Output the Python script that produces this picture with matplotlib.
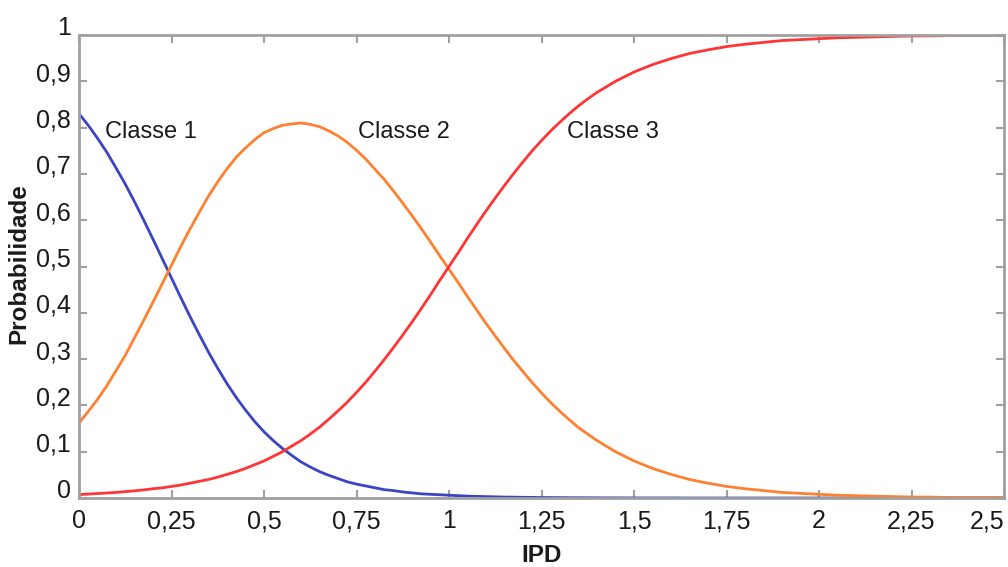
import matplotlib
matplotlib.use("Agg")
import matplotlib.pyplot as plt

plt.rcParams['font.family'] = ['Liberation Sans', 'DejaVu Sans']

ipd = [0.000, 0.025, 0.050, 0.075, 0.100, 0.125, 0.150, 0.175, 0.200, 0.225,
       0.250, 0.275, 0.300, 0.325, 0.350, 0.375, 0.400, 0.425, 0.450, 0.475,
       0.500, 0.525, 0.550, 0.575, 0.600, 0.625, 0.650, 0.675, 0.700, 0.725,
       0.750, 0.775, 0.800, 0.825, 0.850, 0.875, 0.900, 0.925, 0.950, 0.975,
       1.000, 1.025, 1.050, 1.075, 1.100, 1.125, 1.150, 1.175, 1.200, 1.225,
       1.250, 1.275, 1.300, 1.325, 1.350, 1.375, 1.400, 1.425, 1.450, 1.475,
       1.500,
       1.55, 1.60, 1.65, 1.70, 1.75, 1.80, 1.85, 1.90, 1.95, 2.00,
       2.05, 2.10, 2.15, 2.20, 2.25, 2.30, 2.35, 2.40, 2.45, 2.50]

classe1 = [0.830, 0.805, 0.777, 0.747, 0.713, 0.678, 0.640, 0.600, 0.559, 0.517,
           0.475, 0.433, 0.392, 0.353, 0.315, 0.280, 0.247, 0.217, 0.190, 0.165,
           0.143, 0.124, 0.107, 0.092, 0.078, 0.067, 0.057, 0.049, 0.042, 0.035,
           0.030, 0.026, 0.022, 0.018, 0.016, 0.013, 0.011, 0.009, 0.008, 0.007,
           0.006, 0.005, 0.004, 0.0035, 0.003, 0.0025, 0.002, 0.0018, 0.0015, 0.0013,
           0.001, 0.0009, 0.0008, 0.0006, 0.0005, 0.0005, 0.0004, 0.0003, 0.0003, 0.0002,
           0.0002,
           0.0001, 0.0001, 0.0, 0.0, 0.0, 0.0, 0.0, 0.0, 0.0, 0.0,
           0.0, 0.0, 0.0, 0.0, 0.0, 0.0, 0.0, 0.0, 0.0, 0.0]

classe2 = [0.162, 0.187, 0.213, 0.242, 0.275, 0.308, 0.346, 0.384, 0.423, 0.463,
           0.503, 0.543, 0.581, 0.617, 0.652, 0.683, 0.711, 0.736, 0.756, 0.774,
           0.789, 0.798, 0.805, 0.808, 0.810, 0.807, 0.802, 0.793, 0.782, 0.768,
           0.751, 0.732, 0.710, 0.688, 0.663, 0.637, 0.610, 0.582, 0.553, 0.523,
           0.494, 0.465, 0.435, 0.406, 0.377, 0.350, 0.323, 0.297, 0.273, 0.249,
           0.227, 0.206, 0.187, 0.169, 0.152, 0.138, 0.124, 0.112, 0.100, 0.090,
           0.080,
           0.064, 0.051, 0.040, 0.032, 0.025, 0.020, 0.016, 0.012, 0.010, 0.008,
           0.006, 0.005, 0.004, 0.003, 0.002, 0.002, 0.001, 0.001, 0.001, 0.001]

classe3 = [0.0075, 0.0085, 0.0096, 0.0108, 0.012, 0.0138, 0.0155, 0.0175, 0.020, 0.022,
           0.025, 0.028, 0.032, 0.036, 0.040, 0.045, 0.051, 0.057, 0.064, 0.072,
           0.080, 0.090, 0.100, 0.112, 0.124, 0.138, 0.153, 0.170, 0.188, 0.207,
           0.228, 0.250, 0.274, 0.299, 0.325, 0.352, 0.380, 0.409, 0.439, 0.470,
           0.500, 0.530, 0.561, 0.591, 0.620, 0.648, 0.675, 0.701, 0.726, 0.750,
           0.772, 0.793, 0.812, 0.830, 0.847, 0.862, 0.876, 0.888, 0.900, 0.910,
           0.920,
           0.936, 0.949, 0.960, 0.968, 0.975, 0.980, 0.984, 0.988, 0.990, 0.992,
           0.994, 0.995, 0.996, 0.997, 0.998, 0.998, 0.9986, 0.999, 0.999, 0.999]

xticks = [0, 0.25, 0.5, 0.75, 1, 1.25, 1.5, 1.75, 2, 2.25, 2.5]
xticklabels = ["0", "0,25", "0,5", "0,75", "1", "1,25", "1,5", "1,75", "2", "2,25", "2,5"]
yticks = [0, 0.1, 0.2, 0.3, 0.4, 0.5, 0.6, 0.7, 0.8, 0.9, 1]
yticklabels = ["0", "0,1", "0,2", "0,3", "0,4", "0,5", "0,6", "0,7", "0,8", "0,9", "1"]

series_labels = ["Classe 1", "Classe 2", "Classe 3"]

fig = plt.figure(figsize=(10.08, 5.67), dpi=100)
ax = fig.add_axes([79/1008, 1-498/567, (1004-79)/1008, (498-35)/567])

ax.plot(ipd, classe1, color="#3a44c4", lw=2)
ax.plot(ipd, classe2, color="#ff8030", lw=2)
ax.plot(ipd, classe3, color="#ff3434", lw=2)

ax.set_xlim(0, 2.5)
ax.set_ylim(0, 1)
ax.set_xticks(xticks)
ax.set_xticklabels(xticklabels)
ax.set_yticks(yticks)
ax.set_yticklabels(yticklabels)

for s in ax.spines.values():
    s.set_color("#a0a0a0")
    s.set_linewidth(2)

ax.tick_params(direction="in", length=6, width=1.5, color="#a0a0a0",
               top=True, right=True, labelsize=18, labelcolor="#1a1a1a")
ax.tick_params(axis="x", pad=8)
ax.tick_params(axis="y", pad=6)
for lbl in ax.get_yticklabels():
    lbl.set_verticalalignment("baseline")
ax.get_xticklabels()[-1].set_horizontalalignment("right")

ax.set_xlabel("IPD", fontsize=17.5, fontweight="bold", labelpad=8, color="#1a1a1a")
fig.text(19/1008, 1-264/567, "Probabilidade", fontsize=17.5, fontweight="bold",
         rotation=90, ha="center", va="center", color="#1a1a1a")

label_pos = [(0.07, 0.79), (0.755, 0.79), (1.32, 0.79)]
for txt, (lx, ly) in zip(series_labels, label_pos):
    ax.text(lx, ly, txt, fontsize=17, va="center", ha="left", color="#1a1a1a")

fig.savefig("out.png", dpi=100)
